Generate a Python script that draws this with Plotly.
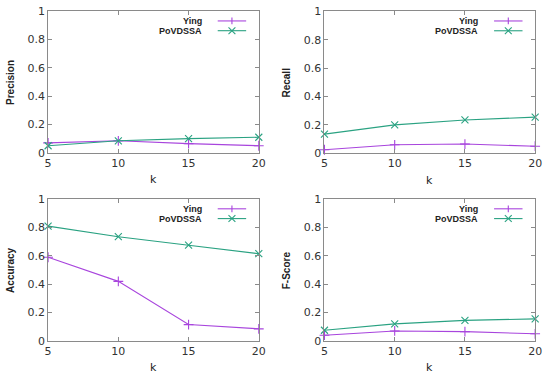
import plotly.graph_objects as go

k_values = [5, 10, 15, 20]
precision_ying = [0.07, 0.085, 0.065, 0.05]
precision_povdssa = [0.05, 0.085, 0.10, 0.11]
recall_ying = [0.025, 0.06, 0.065, 0.05]
recall_povdssa = [0.135, 0.20, 0.235, 0.255]
accuracy_ying = [0.59, 0.42, 0.115, 0.085]
accuracy_povdssa = [0.81, 0.735, 0.675, 0.615]
fscore_ying = [0.04, 0.07, 0.065, 0.05]
fscore_povdssa = [0.075, 0.12, 0.145, 0.155]
y_ticks = [0, 0.2, 0.4, 0.6, 0.8, 1]
y_tick_labels = ["0", "0.2", "0.4", "0.6", "0.8", "1"]
series_names = ["Ying", "PoVDSSA"]
metric_names = ["Precision", "Recall", "Accuracy", "F-Score"]

W, H = 550, 381
PURPLE = "#a845dd"
GREEN = "#2aa282"
BORDER = "#8a8a8a"
TXT = "#333333"

panels = [
    (metric_names[0], precision_ying, precision_povdssa, (45, 260), (5.5, 152)),
    (metric_names[1], recall_ying, recall_povdssa, (327, 542), (5.5, 152.5)),
    (metric_names[2], accuracy_ying, accuracy_povdssa, (45, 260), (200, 346.7)),
    (metric_names[3], fscore_ying, fscore_povdssa, (327, 542), (200, 346.7)),
]

fig = go.Figure()
layout = {}
annotations = []
shapes = []

for i, (name, ying, pov, (x0, x1), (yt, yb)) in enumerate(panels, start=1):
    xa = "x" if i == 1 else f"x{i}"
    ya = "y" if i == 1 else f"y{i}"
    xkey = "xaxis" if i == 1 else f"xaxis{i}"
    ykey = "yaxis" if i == 1 else f"yaxis{i}"
    fig.add_trace(go.Scatter(
        x=k_values, y=ying, xaxis=xa, yaxis=ya, mode="lines+markers",
        line=dict(color=PURPLE, width=1.1),
        marker=dict(symbol="cross-thin", size=7, line=dict(color=PURPLE, width=1.1)),
        showlegend=False, name=series_names[0], cliponaxis=False))
    fig.add_trace(go.Scatter(
        x=k_values, y=pov, xaxis=xa, yaxis=ya, mode="lines+markers",
        line=dict(color=GREEN, width=1.1),
        marker=dict(symbol="x-thin", size=7, line=dict(color=GREEN, width=1.1)),
        showlegend=False, name=series_names[1], cliponaxis=False))
    common = dict(showline=True, linecolor=BORDER, linewidth=1, mirror="ticks",
                  ticks="inside", ticklen=4, tickcolor=BORDER, showgrid=False,
                  zeroline=False, tickfont=dict(family="DejaVu Sans", size=11, color=TXT))
    layout[xkey] = dict(domain=[x0 / W, x1 / W], anchor=ya, range=[5, 20],
                        tickvals=k_values, **common)
    layout[ykey] = dict(domain=[1 - yb / H, 1 - yt / H], anchor=xa, range=[0, 1],
                        tickvals=y_ticks, ticktext=y_tick_labels, **common)
    # axis titles
    annotations.append(dict(text=f"<b>{name}</b>", x=(x0 - 39) / W, y=1 - (yt + yb) / 2 / H,
                            xref="paper", yref="paper", textangle=-90, showarrow=False,
                            xanchor="center", yanchor="middle",
                            font=dict(family="Liberation Sans", size=10, color="#222")))
    annotations.append(dict(text="k", x=(x0 + x1) / 2 / W, y=1 - (yb + 28) / H,
                            xref="paper", yref="paper", showarrow=False,
                            xanchor="center", yanchor="middle",
                            font=dict(family="DejaVu Sans", size=11, color="#222")))
    # legend (gnuplot style: text left, sample right)
    dx = f"{xa} domain"
    dy = f"{ya} domain"
    for j, (sname, col) in enumerate(zip(series_names, [PURPLE, GREEN])):
        ly = 0.932 - j * 0.069
        annotations.append(dict(text=f"<b>{sname}</b>", x=0.74, y=ly, xref=dx, yref=dy,
                                xanchor="right", yanchor="middle", showarrow=False,
                                font=dict(family="Liberation Sans", size=9, color="#222")))
        shapes.append(dict(type="line", xref=dx, yref=dy, x0=0.805, x1=0.94, y0=ly, y1=ly,
                           line=dict(color=col, width=1.1)))
        cx = 0.8725
        hx = 3.5 / (x1 - x0)
        hy = 3.5 / (yb - yt)
        if j == 0:
            shapes.append(dict(type="line", xref=dx, yref=dy, x0=cx, x1=cx,
                               y0=ly - hy, y1=ly + hy, line=dict(color=col, width=1.1)))
        else:
            shapes.append(dict(type="line", xref=dx, yref=dy, x0=cx - hx, x1=cx + hx,
                               y0=ly - hy, y1=ly + hy, line=dict(color=col, width=1.1)))
            shapes.append(dict(type="line", xref=dx, yref=dy, x0=cx - hx, x1=cx + hx,
                               y0=ly + hy, y1=ly - hy, line=dict(color=col, width=1.1)))

fig.update_layout(width=W, height=H, margin=dict(l=0, r=0, t=0, b=0),
                  plot_bgcolor="white", paper_bgcolor="white",
                  annotations=annotations, shapes=shapes, **layout)
fig.write_html("out.html", config={"displayModeBar": False},
               post_script="document.body.style.margin='0';document.body.style.overflow='hidden';")
